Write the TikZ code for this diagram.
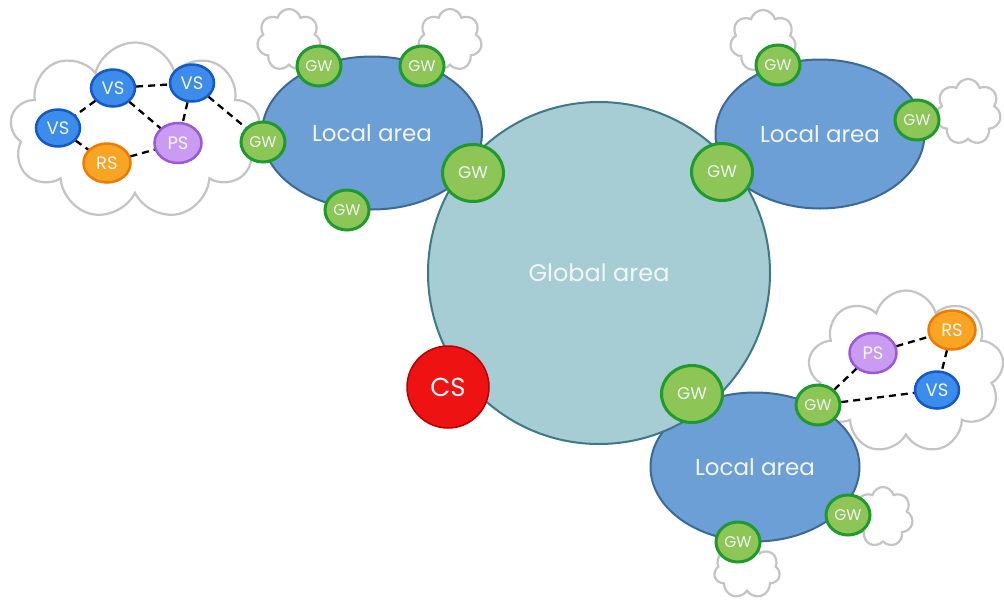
\documentclass[tikz,border=0pt]{standalone}
\usepackage{fontspec}
\setmainfont{Poppins}
\usetikzlibrary{shapes.geometric,shapes.symbols}
\definecolor{globfill}{HTML}{A6CCD4}
\definecolor{globline}{HTML}{3F7886}
\definecolor{locfill}{HTML}{6B9FD5}
\definecolor{locline}{HTML}{3C6996}
\definecolor{gwfill}{HTML}{8DC556}
\definecolor{gwline}{HTML}{1F9A2E}
\definecolor{vsfill}{HTML}{3B8CEB}
\definecolor{vsline}{HTML}{1558C8}
\definecolor{psfill}{HTML}{C99CF2}
\definecolor{psline}{HTML}{9B58DC}
\definecolor{rsfill}{HTML}{F7A522}
\definecolor{rsline}{HTML}{F07A00}
\definecolor{csfill}{HTML}{EE1212}
\definecolor{csline}{HTML}{B30000}
\definecolor{cloudline}{HTML}{C4C4C4}
\definecolor{txt}{HTML}{F2F6F8}
\begin{document}
\begin{tikzpicture}[x=1pt, y=-1pt,
    cloudy/.style = {draw=cloudline, fill=white, line width=2.2pt, cloud, cloud puffs=9, cloud ignores aspect, inner sep=0pt},
    area/.style = {draw=locline, fill=locfill, ellipse, line width=2pt, text=txt, font=\fontsize{23}{23}\selectfont, minimum width=209pt, minimum height=149pt},
    gw/.style = {draw=gwline, fill=gwfill, ellipse, line width=3pt, text=txt, inner sep=0pt, minimum width=44pt, minimum height=40pt, font=\fontsize{15.5}{15.5}\selectfont},
    biggw/.style = {gw, minimum width=61pt, minimum height=57pt, font=\fontsize{17}{17}\selectfont},
    srv/.style = {ellipse, line width=2.5pt, text=txt, inner sep=0pt, minimum width=44pt, minimum height=37pt, font=\fontsize{18}{18}\selectfont},
    link/.style = {line width=2.3pt, dash pattern=on 7pt off 5pt}]

    \fill[white] (0,0) rectangle (1004,606);
    \useasboundingbox (0,0) rectangle (1004,606);

    % clouds behind everything
    \node[cloudy, minimum width=250pt, minimum height=177pt] (c0) at (135,131) {};
    \node[cloudy, cloud puffs=7, minimum width=64pt, minimum height=62pt] (c1) at (289,40) {};
    \node[cloudy, cloud puffs=7, minimum width=64pt, minimum height=62pt] (c2) at (450,40) {};
    \node[cloudy, cloud puffs=7, minimum width=66pt, minimum height=62pt] (c3) at (763,41) {};
    \node[cloudy, cloud puffs=7, minimum width=66pt, minimum height=66pt] (c4) at (968,112) {};
    \node[cloudy, cloud puffs=7, minimum width=60pt, minimum height=60pt] (c5) at (883,517) {};
    \node[cloudy, cloud puffs=7, minimum width=66pt, minimum height=55pt] (c6) at (747,571) {};
    \node[cloudy, minimum width=196pt, minimum height=163pt] (c7) at (906,372) {};

    \node[area, minimum width=220pt, minimum height=153pt] (l1) at (372,133) {Local area};
    \node[area] (l2) at (820,134) {Local area};
    \node[area] (l3) at (755,467) {Local area};
    \node[draw=globline, fill=globfill, circle, line width=2pt, minimum size=342pt, text=txt, font=\fontsize{24}{24}\selectfont] (g) at (599,273) {Global area};
    \node[draw=csline, fill=csfill, circle, line width=1.5pt, minimum size=82pt, text=txt, font=\fontsize{26}{26}\selectfont] (cs) at (448,387) {CS};

    \node[gw] (gw1) at (319,66) {GW};
    \node[gw] (gw2) at (422,66) {GW};
    \node[gw] (gw3) at (263,142) {GW};
    \node[gw] (gw4) at (347,210) {GW};
    \node[biggw] (gw5) at (473,173) {GW};
    \node[gw] (gw6) at (778,65) {GW};
    \node[gw] (gw7) at (917,120) {GW};
    \node[biggw] (gw8) at (722,172) {GW};
    \node[biggw] (gw9) at (692,394) {GW};
    \node[gw] (gw10) at (818,405) {GW};
    \node[gw] (gw11) at (848,515) {GW};
    \node[gw] (gw12) at (738,542) {GW};

    \node[srv, draw=vsline, fill=vsfill] (vs1) at (113,88) {VS};
    \node[srv, draw=vsline, fill=vsfill] (vs2) at (192,83) {VS};
    \node[srv, draw=vsline, fill=vsfill] (vs3) at (58,128) {VS};
    \node[srv, draw=psline, fill=psfill, minimum width=47pt, minimum height=40pt] (ps1) at (178,143) {PS};
    \node[srv, draw=rsline, fill=rsfill, minimum width=47pt, minimum height=39pt] (rs1) at (107,163) {RS};
    \node[srv, draw=psline, fill=psfill, minimum width=47pt, minimum height=40pt] (ps2) at (873,353) {PS};
    \node[srv, draw=rsline, fill=rsfill, minimum width=47pt, minimum height=39pt] (rs2) at (952,330) {RS};
    \node[srv, draw=vsline, fill=vsfill] (vs4) at (937,390) {VS};

    \draw[link] (vs1) -- (vs2);
    \draw[link] (vs1) -- (vs3);
    \draw[link] (vs1) -- (ps1);
    \draw[link] (vs2) -- (ps1);
    \draw[link] (vs2) -- (gw3);
    \draw[link] (vs3) -- (rs1);
    \draw[link] (rs1) -- (ps1);
    \draw[link] (gw10) -- (ps2);
    \draw[link] (ps2) -- (rs2);
    \draw[link] (rs2) -- (vs4);
    \draw[link] (gw10) -- (vs4);

\end{tikzpicture}
\end{document}
